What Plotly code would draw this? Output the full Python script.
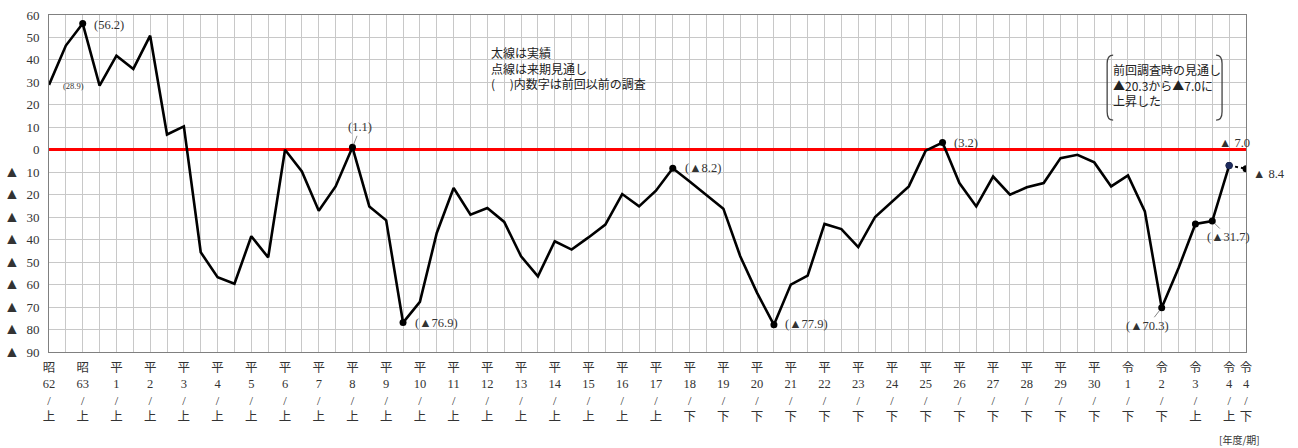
import plotly.graph_objects as go

# ---------------- data ----------------
# half-year periods, 昭62上 (index 0) … 令4下 (index 71)
actual_idx = list(range(71))
actual = [28.9, 46.4, 56.2, 28.6, 41.9, 36.0, 50.8, 6.8, 10.4, -45.6,
          -56.7, -59.6, -38.5, -47.9, 0.0, -9.6, -27.1, -16.3, 1.1, -25.2,
          -31.4, -76.9, -67.7, -37.0, -17.0, -28.9, -25.9, -32.1, -47.4, -56.3,
          -40.7, -44.4, -39.0, -33.3, -19.7, -25.2, -18.2, -8.2, -14.1, -20.0,
          -26.2, -47.4, -63.7, -77.9, -60.0, -56.0, -33.0, -35.3, -43.3, -29.9,
          -23.0, -16.3, -0.4, 3.2, -14.8, -25.2, -11.9, -20.0, -16.7, -14.8,
          -3.7, -2.2, -5.6, -16.3, -11.4, -27.4, -70.3, -52.6, -33.0, -31.7,
          -7.0]
forecast_idx = [70, 71]
forecast = [-7.0, -8.4]

marked_idx = [2, 18, 21, 37, 43, 53, 66, 68, 69, 70]

tick_pos = list(range(0, 71, 2)) + [71]
tick_era = ["昭", "昭"] + ["平"] * 30 + ["令"] * 5
tick_num = ["62", "63"] + [str(n) for n in range(1, 31)] + ["1", "2", "3", "4", "4"]
tick_half = ["上"] * 19 + ["下"] * 15 + ["上", "上", "下"]

y_vals = list(range(-90, 61, 10))
y_text = [("<span style='font-size:16px'>▲</span>  " + str(-v)) if v < 0 else str(v)
          for v in y_vals]

# point labels: (index, text, x offset px, y offset px (down), leader line)
point_labels = [
    (0, "(28.9)", 24, 1, False),
    (2, "(56.2)", 26, 1, False),
    (18, "(1.1)", 8, -20, True),
    (21, "(▲76.9)", 33, 0, False),
    (37, "(▲8.2)", 30, 0, False),
    (43, "(▲77.9)", 33, -1, False),
    (53, "(3.2)", 23, 0, False),
    (66, "(▲70.3)", -14, 18, True),
    (69, "(▲31.7)", 16, 16, True),
    (70, "▲ 7.0", 5, -23, False),
]
fc_label = "▲ 8.4"

note1 = ["太線は実績", "点線は来期見通し", "(\u3000 )内数字は前回以前の調査"]
note2 = ["前回調査時の見通し", "▲20.3から▲7.0に", "上昇した"]
unit_label = "[年度/期]"

# ---------------- figure ----------------
FONT = "Liberation Serif, Noto Sans CJK JP, serif"
TXT = "#333333"
GRID = "#c8c8c8"

fig = go.Figure()

fig.add_trace(go.Scatter(x=actual_idx, y=actual, mode="lines",
                         line=dict(color="black", width=2.6), hoverinfo="skip"))
fig.add_trace(go.Scatter(x=forecast_idx, y=forecast, mode="lines+markers",
                         line=dict(color="black", width=2, dash="dot"),
                         marker=dict(color="black", size=7), hoverinfo="skip"))
fig.add_trace(go.Scatter(x=marked_idx, y=[actual[i] for i in marked_idx], mode="markers",
                         marker=dict(color=["black"] * (len(marked_idx) - 1) + ["#1c2a5c"], size=7),
                         hoverinfo="skip"))

annotations = []
for idx, txt, dx, dy, leader in point_labels:
    yv = actual[idx]
    if leader:
        annotations.append(dict(x=idx, y=yv, xref="x", yref="y", text=txt,
                                showarrow=True, arrowhead=0, arrowwidth=0.8,
                                arrowcolor="#666666", ax=dx, ay=dy, standoff=3,
                                font=dict(family=FONT, size=12.5, color=TXT)))
    else:
        annotations.append(dict(x=idx, y=yv, xref="x", yref="y", text=txt,
                                showarrow=False, xshift=dx, yshift=-dy,
                                font=dict(family=FONT, size=12.5, color=TXT)))
# small one for 28.9
annotations[0]["font"] = dict(family=FONT, size=8.5, color=TXT)

annotations.append(dict(x=forecast_idx[-1], y=forecast[-1], xref="x", yref="y",
                        text=fc_label, showarrow=False, xshift=23, yshift=-5,
                        font=dict(family=FONT, size=12.5, color=TXT)))

# note boxes (paper coordinates)
fig.add_shape(type="rect", xref="paper", yref="paper", x0=0.366, x1=0.556,
              y0=0.730, y1=0.962, fillcolor="white", line=dict(width=0), layer="between")
annotations.append(dict(x=0.368, y=0.921, xref="paper", yref="paper", xanchor="left",
                        yanchor="top", align="left", showarrow=False,
                        text="<br>".join(note1),
                        font=dict(family="Noto Sans CJK JP", size=12, color="#222222")))

bx0, bx1, by0, by1 = 0.884, 0.980, 0.688, 0.881
fig.add_shape(type="rect", xref="paper", yref="paper", x0=bx0, x1=bx1,
              y0=by0, y1=by1, fillcolor="white", line=dict(width=0), layer="between")
cx, cy = 0.005, 0.025
left_br = (f"M {bx0+cx},{by1} Q {bx0},{by1} {bx0},{by1-cy} L {bx0},{by0+cy} "
           f"Q {bx0},{by0} {bx0+cx},{by0}")
right_br = (f"M {bx1-cx},{by1} Q {bx1},{by1} {bx1},{by1-cy} L {bx1},{by0+cy} "
            f"Q {bx1},{by0} {bx1-cx},{by0}")
for p in (left_br, right_br):
    fig.add_shape(type="path", xref="paper", yref="paper", path=p,
                  line=dict(color="#444444", width=1.3), layer="above")
annotations.append(dict(x=0.887, y=0.869, xref="paper", yref="paper", xanchor="left",
                        yanchor="top", align="left", showarrow=False,
                        text="<br>".join(note2),
                        font=dict(family="Noto Sans CJK JP", size=12, color="#222222")))

annotations.append(dict(x=1.013, y=-0.260, xref="paper", yref="paper", xanchor="right",
                        yanchor="middle", showarrow=False, text=unit_label,
                        font=dict(family="Noto Sans CJK JP", size=10, color=TXT)))

fig.update_layout(
    width=1298, height=448,
    margin=dict(l=49, r=52, t=15, b=96, autoexpand=False),
    paper_bgcolor="white", plot_bgcolor="white",
    showlegend=False,
    annotations=annotations,
    xaxis=dict(range=[0, 71], tickmode="array", tickvals=tick_pos,
               ticktext=[f"{e}<br>{n}<br>/<br>{h}" for e, n, h in zip(tick_era, tick_num, tick_half)],
               tickfont=dict(family=FONT, size=12.5, color=TXT),
               showgrid=True, gridcolor=GRID, gridwidth=1,
               minor=dict(tickmode="linear", tick0=0, dtick=1, showgrid=True,
                          gridcolor=GRID, gridwidth=1),
               showline=True, linecolor="#808080", linewidth=1, mirror=True,
               zeroline=False, ticks="", tickangle=0, automargin=False,
               ticklabelstandoff=4),
    yaxis=dict(range=[-90, 60], tickmode="array", tickvals=y_vals, ticktext=y_text,
               tickfont=dict(family=FONT, size=13, color=TXT),
               showgrid=True, gridcolor=GRID, gridwidth=1,
               showline=True, linecolor="#808080", linewidth=1, mirror=True,
               zeroline=True, zerolinecolor="#ff0000", zerolinewidth=2.6,
               ticks="", ticklabelstandoff=6, automargin=False),
)

# remove the page's default 8px body margin so the figure sits at the window origin
fig.write_html("out.html", config={"displayModeBar": False},
               post_script="document.body.style.margin='0';")
